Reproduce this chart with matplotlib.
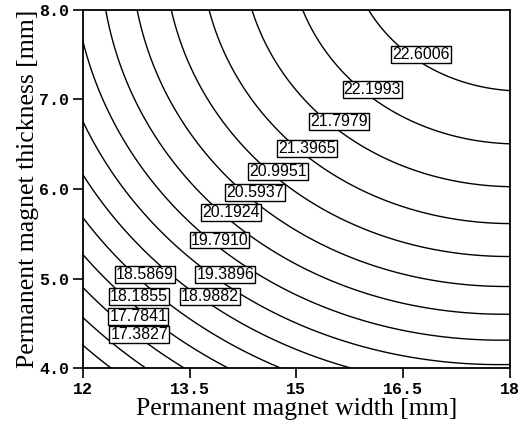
import numpy as np
import matplotlib
matplotlib.use('Agg')
import matplotlib.pyplot as plt

# contour levels (flux linkage), spacing ~0.4014
levels = [16.9813, 17.3827, 17.7841, 18.1855, 18.5869, 18.9882, 19.3896, 19.7910,
          20.1924, 20.5937, 20.9951, 21.3965, 21.7979, 22.1993, 22.6006]

# where each contour meets the border of the design window
left_t = [4.27, 4.57, 4.92, 5.28, 5.63, 6.16, 6.77, 7.63]            # width = 12, levels[0:8]
bottom_w = [12.38, 12.84, 13.43, 14.06, 14.81, 15.75]                # thickness = 4, levels[0:6]
top_w = [12.32, 12.77, 13.24, 13.78, 14.37, 15.07, 16.03]            # thickness = 8, levels[8:15]
right_t = [4.04, 4.32, 4.59, 4.91, 5.24, 5.62, 6.03, 6.51, 7.09]     # width = 18, levels[6:15]

# label boxes
label_vals = levels[1:]
label_w = [12.79, 12.78, 12.79, 12.87, 13.78, 14.00, 13.92, 14.08,
           14.42, 14.74, 15.15, 15.60, 16.07, 16.75]
label_t = [4.37, 4.58, 4.80, 5.04, 4.80, 5.04, 5.43, 5.74,
           5.96, 6.20, 6.45, 6.75, 7.11, 7.50]

w_min, w_max = 12.0, 18.0
t_min, t_max = 4.0, 8.0

# second-order response surface through the border points
pw = np.concatenate([np.full(len(left_t), w_min), bottom_w, top_w, np.full(len(right_t), w_max)])
pt = np.concatenate([left_t, np.full(len(bottom_w), t_min), np.full(len(top_w), t_max), right_t])
pz = np.concatenate([levels[0:8], levels[0:6], levels[8:15], levels[6:15]])

def basis(w, t):
    return np.stack([np.ones_like(w), w, t, w**2, t**2, w * t], axis=-1)

coef, *_ = np.linalg.lstsq(basis(pw, pt), pz, rcond=None)

W, T = np.meshgrid(np.linspace(w_min, w_max, 300), np.linspace(t_min, t_max, 300))
Z = basis(W, T) @ coef

fig = plt.figure(figsize=(5.25, 4.28), dpi=100)
ax = fig.add_axes([0.158, 0.140, 0.813, 0.837])

ax.contour(W, T, Z, levels=levels, colors='black', linewidths=1.0)

for val, w, t in zip(label_vals, label_w, label_t):
    ax.text(w, t, f'{val:.4f}', ha='center', va='center', fontsize=11.5,
            family='Liberation Sans', zorder=5,
            bbox=dict(boxstyle='square,pad=0.06', fc='white', ec='black', lw=1.0))

ax.set_xlim(w_min, w_max)
ax.set_ylim(t_min, t_max)
ax.set_xticks([12, 13.5, 15, 16.5, 18])
ax.set_xticklabels(['12', '13.5', '15', '16.5', '18'])
ax.set_yticks([4, 5, 6, 7, 8])
ax.set_yticklabels(['4.0', '5.0', '6.0', '7.0', '8.0'])
ax.tick_params(direction='out', length=7, width=1.2, labelsize=12, pad=3)
for lab in ax.get_xticklabels() + ax.get_yticklabels():
    lab.set_family('Liberation Mono')
    lab.set_fontweight('bold')
for sp in ax.spines.values():
    sp.set_linewidth(1.3)

ax.set_xlabel('Permanent magnet width [mm]', family='Liberation Serif', fontsize=18.5, labelpad=1)
ax.set_ylabel('Permanent magnet thickness [mm]', family='Liberation Serif', fontsize=18.5, labelpad=0)

fig.savefig('out.png', dpi=100)
